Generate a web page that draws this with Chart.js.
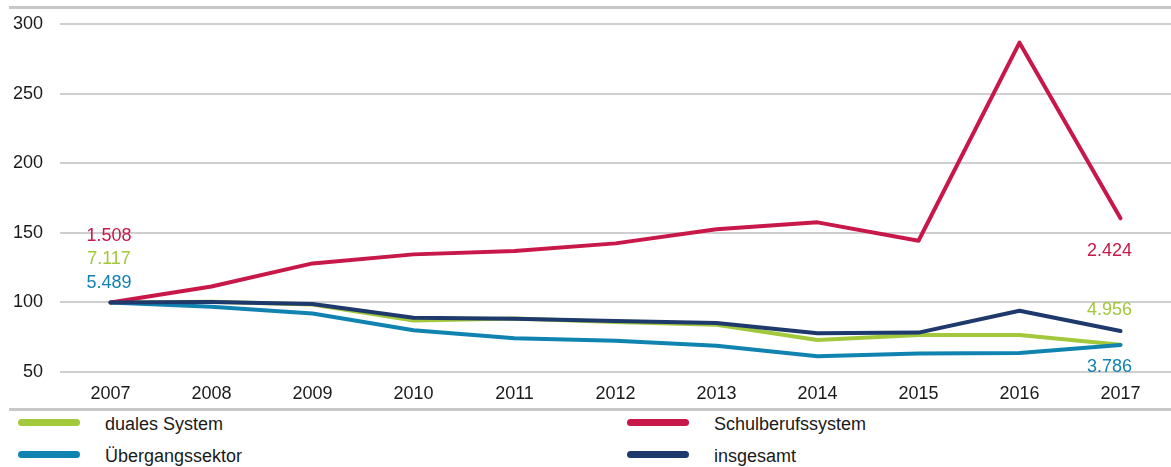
<!DOCTYPE html>
<html lang="de">
<head>
<meta charset="utf-8">
<script src="https://cdn.jsdelivr.net/npm/chart.js@4.4.1/dist/chart.umd.min.js"></script>
<style>
  html, body { margin: 0; padding: 0; background: #fff; }
  body { width: 1171px; height: 467px; overflow: hidden; font-family: "Liberation Sans", Arial, sans-serif; color: #1a1a1a; }
  #wrap { position: relative; width: 1171px; height: 467px; }
  #chart { position: absolute; left: 0; top: 0; }
  .rule { position: absolute; left: 9px; right: 0; height: 3px; background: #c8c8c8; }
  .leg { position: absolute; font-size: 18px; line-height: 20px; }
  .leg .sw { position: absolute; top: 5px; width: 62px; height: 7px; border-radius: 4px; }
  .leg span { position: absolute; white-space: nowrap; }
</style>
</head>
<body>
<div id="wrap">
  <canvas id="chart" width="1171" height="410"></canvas>
  <div class="rule" style="top:6px"></div>
  <div class="rule" style="top:408px"></div>
  <div id="legend"></div>
</div>
<script>
// ===== Daten =====
const years = ["2007","2008","2009","2010","2011","2012","2013","2014","2015","2016","2017"];
const duales      = [100, 100.5, 98.5, 87, 88.5, 86, 84, 73, 76.6, 76.6, 69.5];
const schulberuf  = [100, 111.4, 128, 134.5, 137, 142.4, 152.5, 157.5, 144.3, 286.6, 160.4];
const uebergang   = [100, 96.8, 92, 80, 74.3, 72.4, 68.8, 61.3, 63.3, 63.7, 69.4];
const insgesamt   = [100, 100.2, 98.8, 89, 88.3, 86.6, 85.2, 77.8, 78.3, 94, 79.4];
const startLabels = ["1.508", "7.117", "5.489"];   // Schulberuf, dual, Übergang (2007)
const endLabels   = ["2.424", "4.956", "3.786"];   // Schulberuf, dual, Übergang (2017)
const yTicks = [50, 100, 150, 200, 250, 300];

const colors = { green: "#A2C83B", red: "#C8184A", blue: "#1183B0", navy: "#1E3A6C" };

// ===== Legende (HTML, zwei Spalten) =====
const legendItems = [
  { label: "duales System",      color: colors.green, x: 18,  y: 414 },
  { label: "Schulberufssystem",  color: colors.red,   x: 627, y: 414 },
  { label: "Übergangssektor",    color: colors.blue,  x: 18,  y: 446 },
  { label: "insgesamt",          color: colors.navy,  x: 627, y: 446 }
];
const legendEl = document.getElementById("legend");
legendItems.forEach(it => {
  const d = document.createElement("div");
  d.className = "leg";
  d.style.left = it.x + "px"; d.style.top = it.y + "px";
  d.innerHTML = `<div class="sw" style="left:0;background:${it.color}"></div><span style="left:${87}px;top:0">${it.label}</span>`;
  legendEl.appendChild(d);
});

// ===== Wertbeschriftungen am Anfang / Ende =====
const valueLabels = {
  id: "valueLabels",
  afterDatasetsDraw(chart) {
    const ctx = chart.ctx;
    const ds = (i) => chart.getDatasetMeta(i).data;
    // dataset indices: 0 insgesamt, 1 schulberuf, 2 duales, 3 uebergang
    const p0 = ds(1)[0];
    const last = years.length - 1;
    ctx.save();
    ctx.font = '18px "Liberation Sans", Arial, sans-serif';
    ctx.textAlign = "center";
    ctx.textBaseline = "middle";
    const cols = [colors.red, colors.green, colors.blue];
    const startDy = [-66, -43, -19];
    startLabels.forEach((t, i) => {
      ctx.fillStyle = cols[i];
      ctx.fillText(t, p0.x - 1.5, p0.y + startDy[i]);
    });
    const endPts = [ds(1)[last], ds(2)[last], ds(3)[last]];
    const endDy = [33, -34.5, 22];
    endLabels.forEach((t, i) => {
      ctx.fillStyle = cols[i];
      ctx.fillText(t, endPts[i].x - 11, endPts[i].y + endDy[i]);
    });
    ctx.restore();
  }
};

const lineDs = (data, color, order) => ({
  data, borderColor: color, backgroundColor: color, borderWidth: 4,
  pointRadius: 0, tension: 0, fill: false, order,
  borderJoinStyle: "round", borderCapStyle: "round"
});

new Chart(document.getElementById("chart"), {
  type: "line",
  data: {
    labels: years,
    datasets: [
      lineDs(insgesamt, colors.navy, 0),
      lineDs(schulberuf, colors.red, 1),
      lineDs(duales, colors.green, 3),
      lineDs(uebergang, colors.blue, 2)
    ]
  },
  options: {
    responsive: false,
    animation: false,
    devicePixelRatio: 1,
    layout: { padding: { top: 24, left: 10, right: 0, bottom: 0 } },
    plugins: { legend: { display: false }, tooltip: { enabled: false } },
    scales: {
      x: {
        offset: true,
        grid: { display: false, drawTicks: false },
        border: { display: false },
        ticks: { font: { family: "Liberation Sans", size: 18 }, color: "#1a1a1a", padding: 11, maxRotation: 0 },
        afterFit: s => { s.height = 38; }
      },
      y: {
        min: 50, max: 300,
        afterBuildTicks: s => { s.ticks = yTicks.map(v => ({ value: v })); },
        grid: { color: "#cfcfcf", lineWidth: 2, drawTicks: false },
        border: { display: false },
        ticks: { font: { family: "Liberation Sans", size: 18 }, color: "#1a1a1a", padding: 17 },
        afterFit: s => { s.width = 50; s.paddingTop = 10; s.paddingBottom = 10; }
      }
    }
  },
  plugins: [valueLabels]
});
</script>
</body>
</html>
